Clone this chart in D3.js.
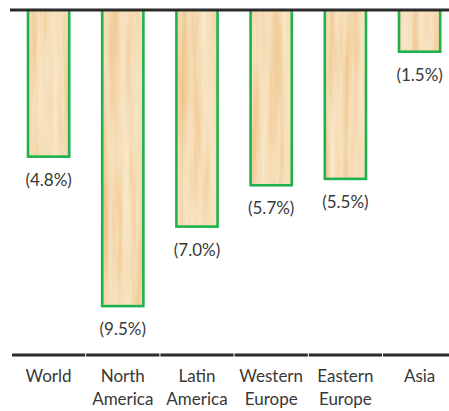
<!DOCTYPE html>
<html>
<head>
<meta charset="utf-8">
<script src="https://cdn.jsdelivr.net/npm/d3@7"></script>
<style>
  html, body { margin: 0; padding: 0; background: #fff; }
  text { font-family: Lato, "Noto Sans", sans-serif; fill: #383838; }
</style>
</head>
<body>
<div id="chart"></div>
<script>
// Data
const categories = ["World", "North America", "Latin America", "Western Europe", "Eastern Europe", "Asia"];
const labelLines = [["World"], ["North", "America"], ["Latin", "America"], ["Western", "Europe"], ["Eastern", "Europe"], ["Asia"]];
const values = [4.8, 9.5, 7.0, 5.7, 5.5, 1.5];
const valueLabels = ["(4.8%)", "(9.5%)", "(7.0%)", "(5.7%)", "(5.5%)", "(1.5%)"];

const width = 449;
const height = 411;

const svg = d3.select("#chart")
    .append("svg")
    .attr("width", width)
    .attr("height", height);

const defs = svg.append("defs");

// wood grain texture
const wood = defs.append("filter")
    .attr("id", "wood")
    .attr("color-interpolation-filters", "sRGB")
    .attr("x", 0).attr("y", 0).attr("width", 1).attr("height", 1);
wood.append("feTurbulence")
    .attr("type", "fractalNoise")
    .attr("baseFrequency", "0.1 0.006")
    .attr("numOctaves", 3)
    .attr("seed", 7)
    .attr("result", "noise");
wood.append("feColorMatrix")
    .attr("type", "matrix")
    .attr("values", "1 0 0 0 0  1 0 0 0 0  1 0 0 0 0  0 0 0 0 1");
const ct = wood.append("feComponentTransfer").attr("result", "tan");
ct.append("feFuncR").attr("type", "table").attr("tableValues", "0.98 0.975 0.965 0.945 0.92");
ct.append("feFuncG").attr("type", "table").attr("tableValues", "0.92 0.905 0.87 0.79 0.72");
ct.append("feFuncB").attr("type", "table").attr("tableValues", "0.81 0.78 0.72 0.58 0.48");
wood.append("feComposite")
    .attr("in", "tan")
    .attr("in2", "SourceGraphic")
    .attr("operator", "in");

// bars hang from the top rule
defs.append("clipPath")
    .attr("id", "below-rule")
    .append("rect")
    .attr("x", 0).attr("y", 10)
    .attr("width", width).attr("height", height);

// Scales
const x = d3.scaleBand()
    .domain(categories)
    .range([11.5, 11.5 + 74.2 * categories.length]);

const xBar = d3.scaleBand()
    .domain(categories)
    .range(x.range())
    .paddingInner(0.445)
    .paddingOuter(0.2225);

const y = d3.scaleLinear()
    .domain([0, 10])
    .range([4, 322]);

// Bars
const barLayer = svg.append("g").attr("clip-path", "url(#below-rule)");

barLayer.selectAll("rect.fill")
    .data(categories)
    .enter()
    .append("rect")
    .attr("class", "fill")
    .attr("x", d => xBar(d))
    .attr("y", y(0))
    .attr("width", xBar.bandwidth())
    .attr("height", (d, i) => y(values[i]) - y(0))
    .attr("fill", "#f3d9b0")
    .attr("filter", "url(#wood)");

barLayer.selectAll("rect.edge")
    .data(categories)
    .enter()
    .append("rect")
    .attr("class", "edge")
    .attr("x", d => xBar(d))
    .attr("y", y(0))
    .attr("width", xBar.bandwidth())
    .attr("height", (d, i) => y(values[i]) - y(0))
    .attr("fill", "none")
    .attr("stroke", "#1db24b")
    .attr("stroke-width", 2.6);

// value labels
svg.selectAll("text.value")
    .data(categories)
    .enter()
    .append("text")
    .attr("class", "value")
    .attr("x", d => x(d) + x.bandwidth() / 2)
    .attr("y", (d, i) => y(values[i]) + 29)
    .attr("text-anchor", "middle")
    .attr("font-size", 17)
    .text((d, i) => valueLabels[i]);

// top rule
svg.append("line")
    .attr("x1", 10).attr("x2", width)
    .attr("y1", 10).attr("y2", 10)
    .attr("stroke", "#2b2b2b")
    .attr("stroke-width", 3);

// bottom axis, one segment per band
svg.selectAll("line.axis")
    .data(categories)
    .enter()
    .append("line")
    .attr("class", "axis")
    .attr("x1", d => x(d) + 0.5)
    .attr("x2", d => x(d) + x.bandwidth() - 0.5)
    .attr("y1", 355).attr("y2", 355)
    .attr("stroke", "#2b2b2b")
    .attr("stroke-width", 3);

// category labels
const cats = svg.selectAll("text.cat")
    .data(categories)
    .enter()
    .append("text")
    .attr("class", "cat")
    .attr("text-anchor", "middle")
    .attr("font-size", 17);

cats.selectAll("tspan")
    .data((d, i) => labelLines[i].map(t => ({ t, c: d })))
    .enter()
    .append("tspan")
    .attr("x", d => x(d.c) + x.bandwidth() / 2)
    .attr("y", (d, j) => 382 + j * 23)
    .text(d => d.t);
</script>
</body>
</html>
